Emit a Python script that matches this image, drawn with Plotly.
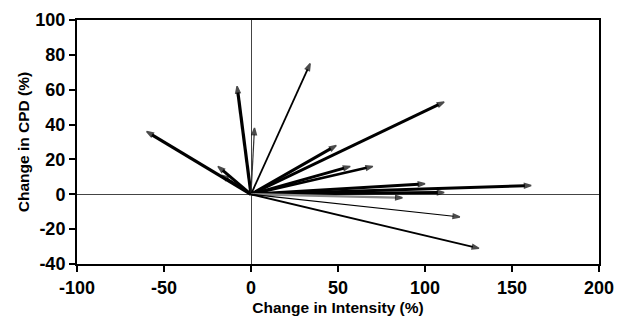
import plotly.graph_objects as go

# Vector end points (Change in Intensity %, Change in CPD %)
intensity_change = [-60, -19, -17, -8, 2, 34, 111, 49, 57, 70, 100, 161, 111, 87, 120, 131]
cpd_change = [36, 16, 11, 62, 38, 75, 53, 28, 16, 16, 6, 5, 1, -2, -13, -31]

x_ticks = [-100, -50, 0, 50, 100, 150, 200]
y_ticks = [-40, -20, 0, 20, 40, 60, 80, 100]

# styles
line_widths = [3.2, 3, 2.5, 3.2, 1.2, 1.8, 3, 3, 3, 2.5, 3, 3, 3, 2.5, 1.2, 1.8]
line_colors = ["black"] * 16
line_colors[13] = "#8a8a8a"
line_colors[4] = "#333333"

fig = go.Figure()
for xe, ye, w, c in zip(intensity_change, cpd_change, line_widths, line_colors):
    fig.add_trace(go.Scatter(
        x=[0, xe], y=[0, ye], mode="lines+markers",
        line=dict(color=c, width=w),
        marker=dict(symbol=["circle", "arrow"], size=[0, 7], color="black",
                    angleref="previous", line=dict(width=1.5, color="black")),
        showlegend=False, hoverinfo="skip", cliponaxis=False,
    ))

font = dict(family="Liberation Sans, Arial, sans-serif", color="black")
axis_common = dict(
    showgrid=False, zeroline=True, zerolinecolor="#444444", zerolinewidth=1,
    showline=True, linecolor="black", linewidth=2, mirror=True,
    ticks="outside", ticklen=6, tickwidth=2, tickcolor="black",
    tickfont=dict(size=18, **font), automargin=False, ticklabeloverflow="allow",
)
fig.update_xaxes(range=[-100, 200], tickvals=x_ticks,
                 ticktext=[f"<b>{v}</b>" for v in x_ticks],
                 title=dict(text="<b>Change in Intensity (%)</b>", font=dict(size=15.5, **font), standoff=6),
                 **axis_common)
fig.update_yaxes(range=[-40, 100], tickvals=y_ticks,
                 ticktext=[f"<b>{v}</b>" for v in y_ticks],
                 title=dict(text="<b>Change in CPD (%)</b>", font=dict(size=15.5, **font), standoff=2),
                 **axis_common)
fig.update_layout(
    width=617, height=328,
    margin=dict(l=77, r=18, t=20, b=64),
    plot_bgcolor="white", paper_bgcolor="white",
    font=font,
)
fig.write_html(
    "out.html",
    config={"displayModeBar": False},
    post_script="document.body.style.margin='0';document.documentElement.style.overflow='hidden';document.body.style.overflow='hidden';",
)
